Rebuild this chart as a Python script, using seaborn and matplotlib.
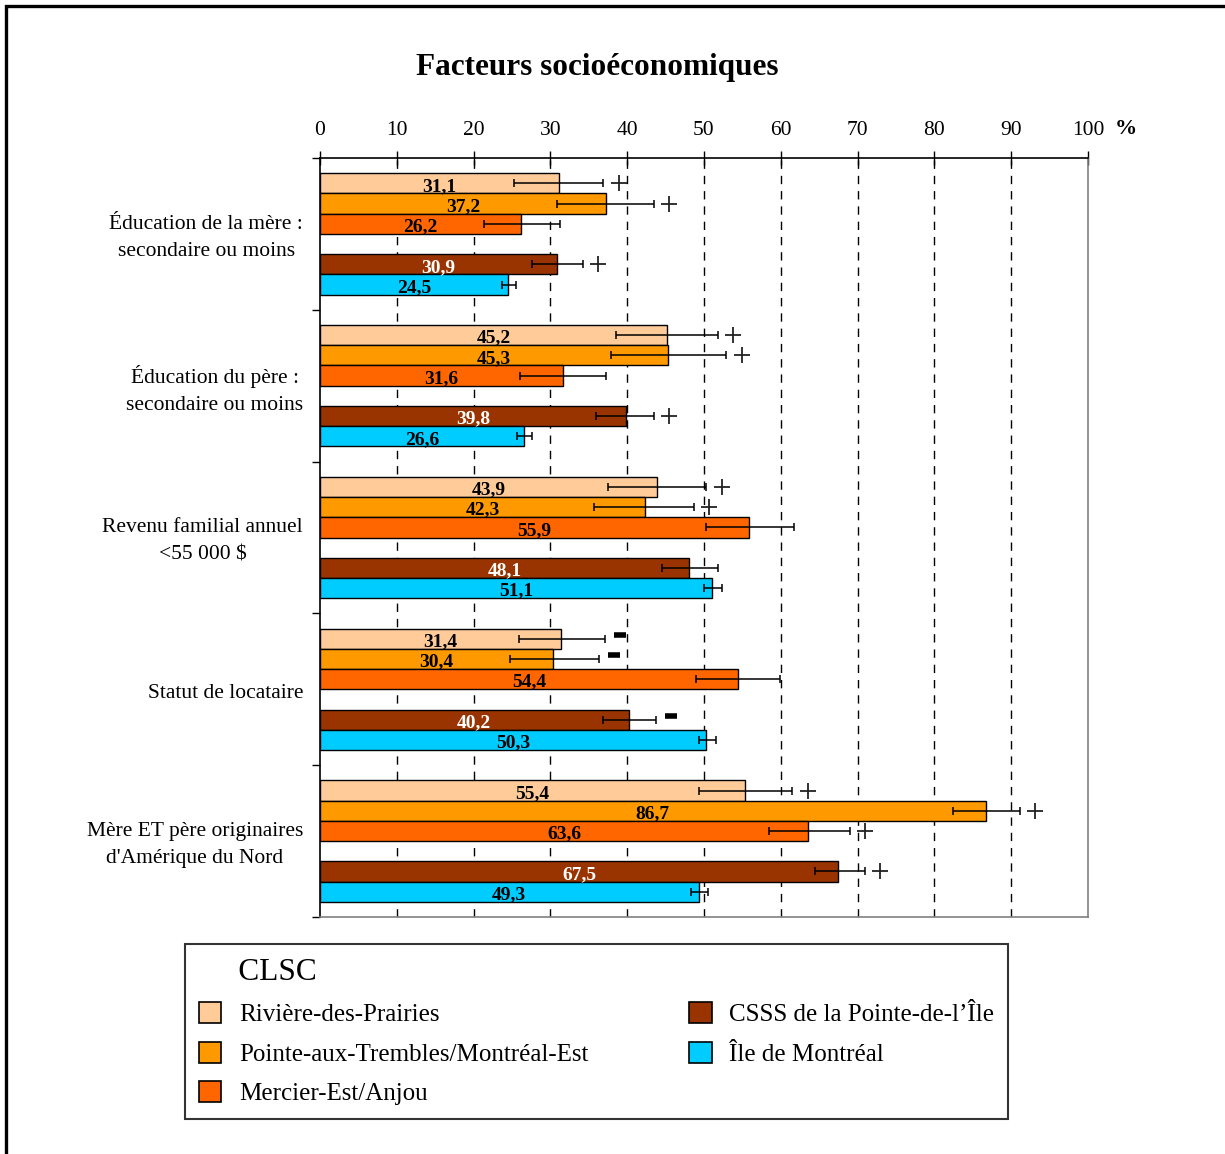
# %%
# Socio-economic factors by CLSC: horizontal bars with confidence intervals
import matplotlib.pyplot as plt
import matplotlib.transforms as mtransforms
import pandas as pd
import seaborn as sns
from matplotlib.patches import Patch, Rectangle

# %%
# Data
categories = [
    "Éducation de la mère :\nsecondaire ou moins",
    "Éducation du père :\nsecondaire ou moins",
    "Revenu familial annuel\n<55 000 \\$",
    "Statut de locataire",
    "Mère ET père originaires\nd'Amérique du Nord",
]
series = [
    "Rivière-des-Prairies",
    "Pointe-aux-Trembles/Montréal-Est",
    "Mercier-Est/Anjou",
    "CSSS de la Pointe-de-l’Île",
    "Île de Montréal",
]
colors = ["#FFCC99", "#FF9900", "#FF6600", "#993300", "#00CCFF"]
label_colors = ["black", "black", "black", "white", "black"]

# values[series][category]
values = [
    [31.1, 45.2, 43.9, 31.4, 55.4],
    [37.2, 45.3, 42.3, 30.4, 86.7],
    [26.2, 31.6, 55.9, 54.4, 63.6],
    [30.9, 39.8, 48.1, 40.2, 67.5],
    [24.5, 26.6, 51.1, 50.3, 49.3],
]
ci_low = [
    [25.3, 38.5, 37.5, 25.9, 49.4],
    [30.9, 37.9, 35.7, 24.7, 82.4],
    [21.4, 26.0, 50.3, 49.0, 58.4],
    [27.6, 36.0, 44.5, 36.9, 64.4],
    [23.7, 25.6, 50.0, 49.3, 48.3],
]
ci_high = [
    [36.9, 51.8, 50.3, 37.1, 61.5],
    [43.5, 52.9, 48.7, 36.3, 91.1],
    [31.2, 37.3, 61.7, 59.9, 69.0],
    [34.2, 43.5, 51.8, 43.7, 70.9],
    [25.5, 27.6, 52.4, 51.5, 50.5],
]
# significance versus Île de Montréal: "+" higher, "-" lower, "" none
signif = [
    ["+", "+", "+", "-", "+"],
    ["+", "+", "+", "-", "+"],
    ["", "", "", "", "+"],
    ["+", "+", "", "-", "+"],
    ["", "", "", "", ""],
]
x_ticks = [0, 10, 20, 30, 40, 50, 60, 70, 80, 90, 100]

# %%
# Layout: slot positions inside each group (gap before the two reference bars)
group_step = 7.5
slot = [0, 1, 2, 4, 5]

rows = []
for s_i, name in enumerate(series):
    for c_i in range(len(categories)):
        rows.append({
            "pos": c_i * group_step + slot[s_i],
            "value": values[s_i][c_i],
            "low": ci_low[s_i][c_i],
            "high": ci_high[s_i][c_i],
            "sig": signif[s_i][c_i],
            "series": name,
            "label_color": label_colors[s_i],
        })
df = pd.DataFrame(rows)

sns.set_style("white")
plt.rcParams["font.family"] = ["Liberation Serif", "DejaVu Serif"]
plt.rcParams["text.color"] = "black"
plt.rcParams["xtick.color"] = "black"
plt.rcParams["ytick.color"] = "black"
plt.rcParams["axes.labelcolor"] = "black"

fig = plt.figure(figsize=(12.25, 11.54), dpi=100)
ax = fig.add_axes([320 / 1225, 1 - 917 / 1154, 768 / 1225, 759 / 1154])

# dashed grid behind the bars
for xv in x_ticks[1:-1]:
    ax.axvline(xv, color="black", lw=1.0, ls=(0, (6, 5)), zorder=0)

sns.barplot(
    data=df,
    x="value",
    y="pos",
    hue="series",
    hue_order=series,
    palette=dict(zip(series, colors)),
    saturation=1,
    orient="h",
    native_scale=True,
    dodge=False,
    width=1.0,
    edgecolor="black",
    linewidth=1.0,
    errorbar=None,
    legend=False,
    ax=ax,
    zorder=2,
)

ax.errorbar(
    df["value"], df["pos"],
    xerr=[df["value"] - df["low"], df["high"] - df["value"]],
    fmt="none", ecolor="black", elinewidth=1.1, capsize=3, capthick=1.1, zorder=3,
)

# value labels inside the bars
for _, r in df.iterrows():
    ax.text(r["value"] / 2, r["pos"] + 0.15, f"{r['value']:.1f}".replace(".", ","),
            ha="center", va="center", fontsize=14, fontweight="bold",
            color=r["label_color"], zorder=4)

# significance markers to the right of the interval
plus = df[df["sig"] == "+"]
minus = df[df["sig"] == "-"]
ax.plot(plus["high"] + 2.0, plus["pos"], ls="none", marker="+", ms=12,
        mew=1.3, color="#222222", zorder=4)
ax.plot(minus["high"] + 2.0, minus["pos"] - 0.2, ls="none", marker="_", ms=8,
        mew=4, color="black", zorder=4)

# axes
ax.set_xlim(0, 100)
ax.set_ylim(36.25, -1.25)
ax.xaxis.tick_top()
ax.set_xticks(x_ticks)
ax.set_xticklabels([str(t) for t in x_ticks], fontsize=15.5)
ax.tick_params(axis="x", direction="inout", length=10, width=1, color="black",
               pad=8, top=True, bottom=False)
bounds = [c * group_step - 1.25 for c in range(len(categories) + 1)]
ax.set_yticks(bounds)
ax.set_yticklabels([])
ax.tick_params(axis="y", direction="out", length=6, width=1, color="black", left=True)
ax.set_xlabel("")
ax.set_ylabel("")

for side in ["top", "left"]:
    ax.spines[side].set_color("black")
    ax.spines[side].set_linewidth(1.2)
for side in ["right", "bottom"]:
    ax.spines[side].set_color("#808080")
    ax.spines[side].set_linewidth(1.2)
    ax.spines[side].set_visible(True)

# category labels to the left of each group
trans = mtransforms.blended_transform_factory(ax.transAxes, ax.transData)
for c_i, cat in enumerate(categories):
    ax.text(-0.022, c_i * group_step + 2.7, cat, transform=trans, ha="right",
            va="center", multialignment="center", fontsize=15.5, linespacing=1.6)

fig.text(597 / 1225, 1 - 67 / 1154, "Facteurs socioéconomiques", ha="center",
         va="center", fontsize=22.5, fontweight="bold")
fig.text(1126 / 1225, 1 - 129 / 1154, "%", ha="center", va="center",
         fontsize=16, fontweight="bold")

# legend
handles = [Patch(facecolor=c, edgecolor="black", linewidth=1.2) for c in colors]
handles.append(Patch(facecolor="none", edgecolor="none"))
labels = series + [""]
leg = fig.legend(
    handles, labels, ncol=2, title="CLSC", title_fontsize=22.5, fontsize=18,
    loc="upper left",
    bbox_to_anchor=(185 / 1225, 1 - 944 / 1154, 823 / 1225, 0.0),
    mode="expand", alignment="left", frameon=True, fancybox=False,
    edgecolor="black", borderpad=0.55, borderaxespad=0, handlelength=0.9,
    handleheight=0.9, handletextpad=0.7, labelspacing=0.62,
)
leg.get_frame().set_linewidth(1.5)
leg._legend_title_box._text.set_text("     CLSC")

# outer frame of the picture
fig.patches.append(Rectangle((6 / 1225, -0.1), 1.2, 1.1 - 6 / 1154,
                             transform=fig.transFigure, fill=False,
                             edgecolor="black", linewidth=2.4, clip_on=False))

fig.savefig("out.png", dpi=100, facecolor="white")
plt.close(fig)
